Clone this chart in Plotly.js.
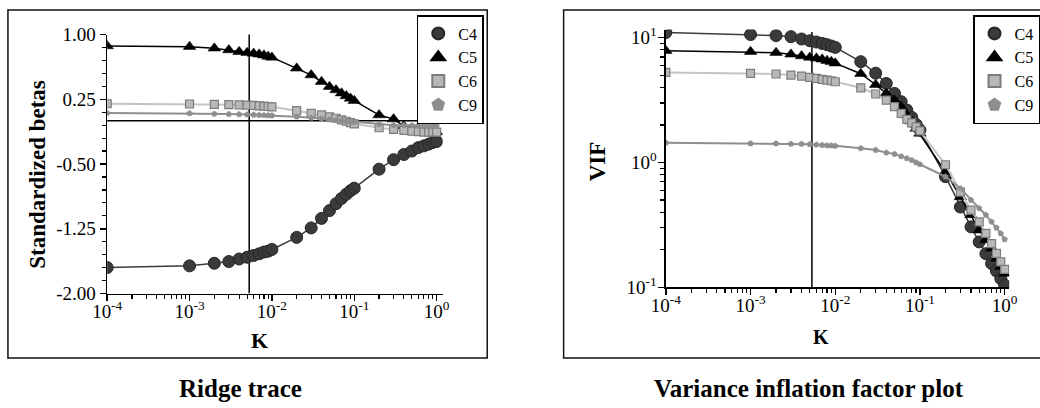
<!DOCTYPE html>
<html>
<head>
<meta charset="utf-8">
<script src="https://cdn.plot.ly/plotly-3.0.1.min.js"></script>
<style>
  html, body { margin: 0; padding: 0; background: #ffffff; }
  #chart { width: 1040px; height: 408px; }
</style>
</head>
<body>
<div id="chart"></div>
<script>
// ---- data ----
const kValues = [0.0001, 0.001, 0.002, 0.003, 0.004, 0.005, 0.006, 0.007, 0.008, 0.009,
                 0.01, 0.02, 0.03, 0.04, 0.05, 0.06, 0.07, 0.08, 0.09,
                 0.1, 0.2, 0.3, 0.4, 0.5, 0.6, 0.7, 0.8, 0.9, 1.0];

const seriesNames = ['C4', 'C5', 'C6', 'C9'];

// Ridge trace: standardized betas
const betaC4 = [-1.70, -1.68, -1.65, -1.63, -1.60, -1.58, -1.56, -1.54, -1.52, -1.51,
                -1.49, -1.35, -1.24, -1.13, -1.04, -0.96, -0.90, -0.85, -0.81,
                -0.78, -0.56, -0.45, -0.39, -0.35, -0.31, -0.29, -0.27, -0.25, -0.24];
const betaC5 = [0.867, 0.859, 0.84, 0.82, 0.80, 0.79, 0.78, 0.77, 0.76, 0.745,
                0.735, 0.608, 0.53, 0.453, 0.395, 0.357, 0.32, 0.288, 0.26,
                0.233, 0.067, 0.02, -0.06, -0.09, -0.11, -0.12, -0.125, -0.13, -0.13];
const betaC6 = [0.198, 0.195, 0.19, 0.188, 0.185, 0.183, 0.178, 0.174, 0.17, 0.166,
                0.162, 0.118, 0.087, 0.068, 0.045, 0.03, 0.01, -0.005, -0.02,
                -0.035, -0.08, -0.10, -0.11, -0.12, -0.125, -0.13, -0.13, -0.13, -0.13];
const betaC9 = [0.09, 0.087, 0.08, 0.078, 0.075, 0.072, 0.07, 0.068, 0.066, 0.064,
                0.062, 0.048, 0.035, 0.025, 0.015, 0.008, 0.0, -0.005, -0.01,
                -0.015, -0.04, -0.05, -0.052, -0.054, -0.056, -0.058, -0.06, -0.06, -0.06];

// Variance inflation factors
const vifC4 = [11.0, 10.6, 10.4, 10.2, 9.77, 9.46, 9.24, 9.0, 8.8, 8.58,
               8.37, 6.43, 5.2, 4.3, 3.58, 3.07, 2.63, 2.30, 2.02,
               1.82, 0.77, 0.44, 0.305, 0.231, 0.186, 0.155, 0.135, 0.117, 0.104];
const vifC5 = [7.87, 7.73, 7.59, 7.36, 7.13, 6.96, 6.84, 6.71, 6.54, 6.43,
               6.24, 5.15, 4.2, 3.58, 3.16, 2.8, 2.4, 2.14, 1.87,
               1.71, 0.84, 0.53, 0.38, 0.287, 0.239, 0.205, 0.17, 0.146, 0.129];
const vifC6 = [5.27, 5.18, 5.12, 5.02, 4.93, 4.81, 4.72, 4.63, 4.58, 4.52,
               4.44, 3.97, 3.54, 3.16, 2.8, 2.48, 2.22, 2.08, 1.93,
               1.79, 0.96, 0.58, 0.415, 0.334, 0.27, 0.224, 0.187, 0.16, 0.139];
const vifC9 = [1.44, 1.42, 1.42, 1.41, 1.41, 1.40, 1.39, 1.38, 1.37, 1.37,
               1.36, 1.30, 1.26, 1.20, 1.17, 1.12, 1.08, 1.045, 1.0,
               0.966, 0.77, 0.62, 0.5, 0.43, 0.38, 0.335, 0.3, 0.27, 0.242];

// chosen ridge constant (vertical reference line)
const chosenK = 0.0053;
const betaRefSpan = [-2.0, 1.01];
const vifRefSpan = [0.1, 11.1];

// tick labels
const xTickVals = [0.0001, 0.001, 0.01, 0.1, 1];
const xTickText = ['10<sup>-4</sup>', '10<sup>-3</sup>', '10<sup>-2</sup>', '10<sup>-1</sup>', '10<sup>0</sup>'];
const betaTickVals = [1.0, 0.25, -0.5, -1.25, -2.0];
const betaTickText = ['1.00', '0.25', '-0.50', '-1.25', '-2.00'];
const vifTickVals = [0.1, 1, 10];
const vifTickText = ['10<sup>-1</sup>', '10<sup>0</sup>', '10<sup>1</sup>'];

// ---- styling ----
const W = 1040, H = 408;
const FONT = 'Liberation Serif';
const px = v => v / W;
const py = v => (H - v) / H;

const styles = {
  C4: { line: { color: '#3c3c3c', width: 1.5 }, marker: { symbol: 'circle', size: 12, color: '#3a3a3a', line: { color: '#262626', width: 1 } } },
  C5: { line: { color: '#000000', width: 1.5 }, marker: { symbol: 'triangle-up', size: 11, color: '#000000', line: { color: '#000000', width: 0.5 } } },
  C6: { line: { color: '#c4c4c4', width: 2 }, marker: { symbol: 'square', size: 8, color: '#b8b8b8', line: { color: '#7c7c7c', width: 1.2 } } },
  C9: { line: { color: '#8e8e8e', width: 2 }, marker: { symbol: 'pentagon', size: 6, color: '#8e8e8e', line: { color: '#8e8e8e', width: 0.5 } } }
};

// minor tick positions
const logMinor = [];
for (let e = -4; e <= 0; e++) {
  for (let m = 2; m <= 9; m++) logMinor.push(m * Math.pow(10, e));
}
const logMinorY = [];
for (let e = -1; e <= 1; e++) {
  for (let m = 2; m <= 9; m++) { const v = m * Math.pow(10, e); if (v < 11.5) logMinorY.push(v); }
}
const betaMinor = [];
for (let i = 0; i <= 20; i++) betaMinor.push(Math.round((1 - i * 0.15) * 100) / 100);

const traces = [];
function addSeries(name, yvals, xa, ya, legendId) {
  traces.push({
    x: kValues, y: yvals, xaxis: xa, yaxis: ya, type: 'scatter', mode: 'lines',
    line: styles[name].line, showlegend: false, hoverinfo: 'skip'
  });
  traces.push({
    x: kValues, y: yvals, xaxis: xa, yaxis: ya, type: 'scatter', mode: 'markers',
    name: name, marker: styles[name].marker, legend: legendId
  });
}

// reference lines
traces.push({ x: [chosenK, chosenK], y: betaRefSpan, xaxis: 'x', yaxis: 'y', mode: 'lines',
  line: { color: '#000', width: 1.5 }, showlegend: false, hoverinfo: 'skip' });
traces.push({ x: [chosenK, chosenK], y: vifRefSpan, xaxis: 'x2', yaxis: 'y2', mode: 'lines',
  line: { color: '#000', width: 1.5 }, showlegend: false, hoverinfo: 'skip' });

const betaSeries = [betaC4, betaC5, betaC6, betaC9];
const vifSeries = [vifC4, vifC5, vifC6, vifC9];
seriesNames.forEach((n, i) => addSeries(n, betaSeries[i], 'x', 'y', 'legend'));
seriesNames.forEach((n, i) => addSeries(n, vifSeries[i], 'x2', 'y2', 'legend2'));

const tickFont = { family: FONT, size: 19, color: '#000' };
const axisCommon = {
  showgrid: false, zeroline: false, showline: true, linecolor: '#000', linewidth: 1.5,
  ticks: 'outside', ticklen: 6, tickwidth: 1.5, tickcolor: '#000', tickfont: tickFont,
  tickmode: 'array', automargin: false
};

const legendCommon = {
  xanchor: 'left', yanchor: 'top', bgcolor: '#ffffff', bordercolor: '#000', borderwidth: 1.5,
  font: { family: FONT, size: 16, color: '#000' }, itemsizing: 'constant', tracegroupgap: 0,
  itemwidth: 30
};

const layout = {
  width: W, height: H,
  margin: { l: 0, r: 0, t: 0, b: 0 },
  paper_bgcolor: '#ffffff', plot_bgcolor: 'rgba(0,0,0,0)',
  font: { family: FONT, size: 16, color: '#000' },
  showlegend: true,
  xaxis: Object.assign({}, axisCommon, {
    type: 'log', domain: [px(108), px(446)], range: [-4, 0.072], anchor: 'y',
    tickvals: xTickVals, ticktext: xTickText, ticklabelstandoff: -6,
    minor: { tickvals: logMinor, ticks: 'outside', ticklen: 4, tickwidth: 1.2, tickcolor: '#000' }
  }),
  yaxis: Object.assign({}, axisCommon, {
    domain: [py(293.5), py(34.5)], range: [-2, 1], anchor: 'x',
    tickvals: betaTickVals, ticktext: betaTickText,
    minor: { tickvals: betaMinor, ticks: 'outside', ticklen: 4, tickwidth: 1.2, tickcolor: '#000' }
  }),
  xaxis2: Object.assign({}, axisCommon, {
    type: 'log', domain: [px(671), px(1017)], range: [-4, 0.053], anchor: 'y2',
    tickvals: xTickVals, ticktext: xTickText, ticklabelstandoff: -6,
    minor: { tickvals: logMinor, ticks: 'outside', ticklen: 4, tickwidth: 1.2, tickcolor: '#000' }
  }),
  yaxis2: Object.assign({}, axisCommon, {
    type: 'log', domain: [py(287.3), py(29.5)], range: [-1, 1.066], anchor: 'x2',
    tickvals: vifTickVals, ticktext: vifTickText, ticklabelstandoff: -2,
    minor: { tickvals: logMinorY, ticks: 'outside', ticklen: 4, tickwidth: 1.2, tickcolor: '#000' }
  }),
  legend: Object.assign({}, legendCommon, { x: px(420), y: py(15) }),
  legend2: Object.assign({}, legendCommon, { x: px(981), y: py(15) }),
  shapes: [
    { type: 'rect', xref: 'paper', yref: 'paper', x0: px(8), x1: px(491), y0: py(358), y1: py(10),
      line: { color: '#111', width: 1.5 }, fillcolor: 'rgba(0,0,0,0)', layer: 'below' },
    { type: 'rect', xref: 'paper', yref: 'paper', x0: px(568), x1: px(1060), y0: py(358), y1: py(10),
      line: { color: '#111', width: 1.5 }, fillcolor: 'rgba(0,0,0,0)', layer: 'below' },
    { type: 'line', xref: 'x domain', yref: 'y', x0: 0, x1: 1, y0: 0, y1: 0,
      line: { color: '#000', width: 1.5 }, layer: 'below' }
  ],
  annotations: [
    { text: '<b>Standardized betas</b>', xref: 'paper', yref: 'paper', x: px(37), y: py(174),
      textangle: -90, showarrow: false, xanchor: 'center', yanchor: 'middle',
      font: { family: FONT, size: 23, color: '#000' } },
    { text: '<b>K</b>', xref: 'paper', yref: 'paper', x: px(262), y: py(340),
      showarrow: false, xanchor: 'center', yanchor: 'middle',
      font: { family: FONT, size: 22, color: '#000' } },
    { text: '<b>VIF</b>', xref: 'paper', yref: 'paper', x: px(602), y: py(161),
      textangle: -90, showarrow: false, xanchor: 'center', yanchor: 'middle',
      font: { family: FONT, size: 23, color: '#000' } },
    { text: '<b>K</b>', xref: 'paper', yref: 'paper', x: px(827), y: py(337),
      showarrow: false, xanchor: 'center', yanchor: 'middle',
      font: { family: FONT, size: 20, color: '#000' } },
    { text: '<b>Ridge trace</b>', xref: 'paper', yref: 'paper', x: px(242), y: py(388),
      showarrow: false, xanchor: 'center', yanchor: 'middle',
      font: { family: FONT, size: 25, color: '#000' } },
    { text: '<b>Variance inflation factor plot</b>', xref: 'paper', yref: 'paper', x: px(815), y: py(388),
      showarrow: false, xanchor: 'center', yanchor: 'middle',
      font: { family: FONT, size: 25, color: '#000' } }
  ]
};

Plotly.newPlot('chart', traces, layout, { staticPlot: true, displayModeBar: false });
</script>
</body>
</html>
